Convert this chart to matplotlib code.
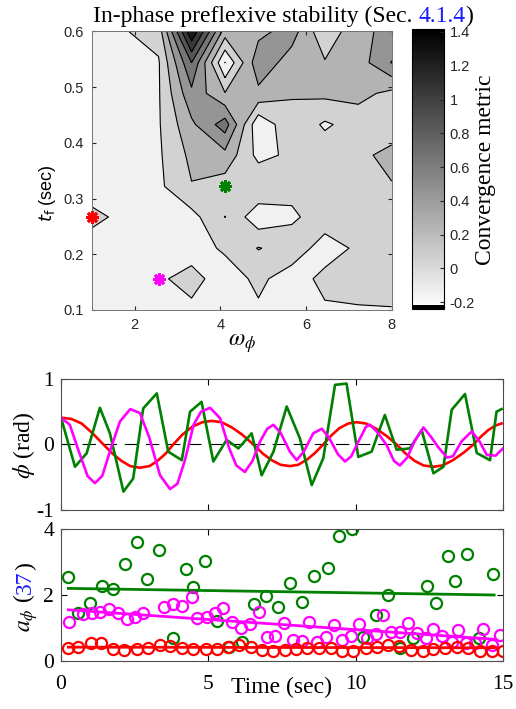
import numpy as np
import matplotlib
matplotlib.use('Agg')
import matplotlib.pyplot as plt
from matplotlib.colors import ListedColormap, Normalize
import matplotlib.cm as cm

plt.rcParams['font.family'] = ['Liberation Serif', 'DejaVu Serif']
plt.rcParams['mathtext.fontset'] = 'stix'
plt.rcParams['axes.unicode_minus'] = False

# ---- data: stability map (omega_phi x t_f grid) ----
omega = [1.0, 1.78, 2.56, 3.33, 4.11, 4.89, 5.67, 6.44, 7.22, 8.0]
tf = [0.1, 0.156, 0.211, 0.267, 0.322, 0.378, 0.433, 0.489, 0.544, 0.6]
conv = [
    [-0.15, -0.15, -0.12, -0.037, -0.10, -0.025, -0.08, -0.023, -0.01, -0.007],
    [-0.12, -0.10, -0.026, 0.06, -0.09, 0.04, -0.09, 0.05, 0.05, 0.06],
    [-0.09, -0.10, -0.10, -0.08, 0.027, 0.21, 0.11, -0.086, 0.033, 0.08],
    [0.05, -0.05, -0.10, -0.068, 0.203, -0.137, -0.035, 0.10, 0.10, 0.10],
    [-0.10, -0.10, -0.042, 0.19, 0.10, 0.18, 0.06, 0.12, 0.15, 0.19],
    [-0.10, -0.10, -0.03, 0.25, 0.34, -0.06, 0.04, 0.12, 0.16, 0.25],
    [-0.10, -0.10, -0.02, 0.36, 0.70, -0.16, 0.16, -0.03, 0.09, 0.10],
    [-0.10, -0.10, -0.02, 0.55, 0.21, 0.35, 0.21, 0.25, 0.26, 0.15],
    [-0.10, -0.08, -0.02, 0.80, -0.205, 0.54, 0.30, 0.217, 0.30, 0.61],
    [-0.10, -0.01, 0.08, 1.38, 0.30, 0.34, 0.49, 0.044, 0.356, 0.45],
]
clim = (-0.243, 1.416)
line_levels = [-0.2, 0, 0.2, 0.4, 0.6, 0.8, 1.0, 1.2]
cb_ticks = [-0.2, 0, 0.2, 0.4, 0.6, 0.8, 1.0, 1.2, 1.4]
cb_ticklabels = ['-0.2', '0', '0.2', '0.4', '0.6', '0.8', '1', '1.2', '1.4']

# picked parameter sets (red, green, magenta)
pick_omega = [1.0, 4.11, 2.56]
pick_tf = [0.267, 0.322, 0.156]
pick_colors = ['#ff0000', '#008000', '#ff00ff']

# ---- data: phi(t) ----
t_red = [0, 0.35, 0.7, 1.05, 1.44, 1.75, 2.05, 2.35, 2.68, 3.0, 3.25, 3.55, 3.81,
         4.12, 4.45, 4.8, 5.11, 5.45, 5.8, 6.15, 6.53, 6.85, 7.15, 7.45, 7.77,
         8.05, 8.35, 8.62, 8.9, 9.18, 9.45, 9.75, 10.03, 10.35, 10.7, 11.05, 11.39,
         11.7, 12.0, 12.3, 12.64, 12.95, 13.3, 13.65, 14.0, 14.25, 14.5, 14.75, 14.95]
phi_red = [0.41, 0.39, 0.32, 0.18, 0, -0.14, -0.25, -0.33, -0.355, -0.33, -0.26, -0.14, 0,
           0.15, 0.27, 0.34, 0.36, 0.34, 0.26, 0.15, 0, -0.14, -0.24, -0.31, -0.33,
           -0.31, -0.23, -0.13, 0, 0.14, 0.25, 0.32, 0.34, 0.32, 0.24, 0.13, 0,
           -0.14, -0.25, -0.32, -0.34, -0.32, -0.24, -0.13, 0, 0.12, 0.22, 0.29, 0.32]

t_green = [0, 0.475, 0.87, 1.32, 1.66, 2.12, 2.45, 2.79, 3.25, 3.64, 4.10, 4.38, 4.77,
           5.17, 5.62, 6.02, 6.47, 6.81, 7.21, 7.66, 8.11, 8.51, 8.90, 9.30, 9.69,
           10.09, 10.54, 10.99, 11.39, 11.84, 12.24, 12.64, 12.98, 13.26, 13.71,
           14.11, 14.56, 14.78, 14.95]
phi_green = [0.41, -0.34, -0.135, 0.56, 0.17, -0.72, -0.52, 0.55, 0.78, -0.11, -0.24,
             0.50, 0.65, -0.26, 0.07, -0.06, 0.17, -0.47, -0.11, 0.58, 0.09, -0.62,
             -0.21, 0.91, 0.93, -0.19, -0.11, 0.45, -0.08, -0.06, 0.22, -0.44, -0.34,
             0.53, 0.77, -0.13, -0.24, 0.50, 0.54]

t_mag = [0.0, 0.3, 0.6, 0.9, 1.15, 1.4, 1.7, 2.0, 2.35, 2.68, 3.0, 3.36, 3.7, 3.95,
         4.2, 4.5, 4.75, 5.06, 5.4, 5.7, 5.95, 6.24, 6.5, 6.75, 7.0, 7.21, 7.45, 7.77,
         8.0, 8.25, 8.56, 8.85, 9.1, 9.4, 9.64, 9.85, 10.1, 10.35, 10.49, 10.75, 11.05,
         11.3, 11.5, 11.75, 12.0, 12.3, 12.55, 12.8, 13.1, 13.3, 13.6, 13.94, 14.2,
         14.45, 14.75, 15.0]
phi_mag = [0.41, 0.30, -0.10, -0.48, -0.59, -0.48, -0.05, 0.35, 0.54, 0.48, 0.10, -0.47,
           -0.68, -0.60, -0.25, 0.30, 0.50, 0.56, 0.40, -0.05, -0.32, -0.42, -0.25, 0.04,
           0.24, 0.30, 0.18, -0.11, -0.24, -0.10, 0.17, 0.24, 0.10, -0.15, -0.26, -0.18,
           0.05, 0.27, 0.30, 0.18, -0.01, -0.25, -0.32, -0.20, 0.05, 0.26, 0.12, -0.04,
           -0.20, -0.18, 0.05, 0.20, 0.05, -0.16, -0.17, -0.06]

# ---- data: a_phi samples ----
ta_green = [0.25, 0.59, 0.98, 1.38, 1.78, 2.17, 2.59, 2.91, 3.34, 3.79, 4.24, 4.47, 4.89,
            5.28, 5.71, 6.13, 6.55, 6.95, 7.35, 7.77, 8.19, 8.60, 9.07, 9.45, 9.86,
            10.26, 10.69, 11.11, 11.51, 11.96, 12.41, 12.71, 13.12, 13.37, 13.79, 14.20, 14.67]
a_green = [2.56, 1.44, 1.75, 2.28, 2.18, 2.93, 3.60, 2.48, 3.36, 0.69, 2.78, 2.23, 3.04,
           1.21, 0.43, 0.59, 1.73, 1.98, 1.63, 2.35, 1.80, 2.58, 2.83, 3.80, 3.99,
           0.72, 1.39, 2.00, 0.40, 0.69, 2.28, 1.77, 3.18, 2.42, 3.25, 0.69, 2.63]

ta_mag = [0.28, 0.74, 1.04, 1.32, 1.64, 1.95, 2.23, 2.51, 2.79, 3.51, 3.79, 4.10, 4.43,
          4.63, 4.94, 5.23, 5.51, 5.79, 6.10, 6.41, 6.72, 6.98, 7.26, 7.58, 7.86, 8.17,
          8.43, 8.70, 8.98, 9.26, 9.55, 9.83, 10.12, 10.40, 10.69, 10.94, 11.19, 11.50,
          11.79, 12.07, 12.38, 12.64, 12.92, 13.26, 13.48, 13.74, 14.05, 14.33, 14.62, 14.90]
a_mag = [1.17, 1.41, 1.44, 1.49, 1.58, 1.44, 1.27, 1.34, 1.44, 1.65, 1.72, 1.68, 1.95,
         1.29, 1.34, 1.44, 1.62, 1.17, 1.01, 1.11, 1.49, 0.74, 0.77, 1.16, 0.64, 0.61,
         1.19, 0.57, 0.72, 1.09, 0.64, 0.77, 1.12, 0.69, 0.81, 1.39, 0.87, 0.87,
         1.16, 0.84, 0.69, 0.97, 0.77, 0.59, 0.94, 0.54, 0.56, 0.96, 0.48, 0.79]

ta_red = [0.25, 0.59, 1.01, 1.35, 1.75, 2.15, 2.57, 2.96, 3.36, 3.70, 4.10, 4.49, 4.91,
          5.28, 5.68, 6.05, 6.44, 6.83, 7.21, 7.60, 7.98, 8.36, 8.76, 9.15, 9.55, 9.92,
          10.35, 10.74, 11.11, 11.48, 11.87, 12.27, 12.64, 13.03, 13.43, 13.82, 14.22,
          14.62, 15.0]
a_red = [0.40, 0.43, 0.54, 0.56, 0.36, 0.33, 0.35, 0.38, 0.48, 0.46, 0.40, 0.36, 0.35,
         0.35, 0.43, 0.48, 0.43, 0.33, 0.31, 0.33, 0.36, 0.40, 0.40, 0.38, 0.30, 0.31,
         0.38, 0.43, 0.48, 0.45, 0.33, 0.31, 0.36, 0.38, 0.43, 0.38, 0.31, 0.30, 0.31]

# trend lines (start/end)
fit_t = [0.25, 14.7]
fit_green = [2.20, 2.00]
fit_mag = [1.55, 0.66]
fit_red = [0.42, 0.40]

blue = '#1a1aff'
gray_txt = '#262626'

fig = plt.figure(figsize=(5.16, 7.09), dpi=100)

# ---------------- contour map ----------------
base = plt.cm.gray_r(np.linspace(0, 1, 256))
base[:4] = [0, 0, 0, 1]
cmap = ListedColormap(base)
norm = Normalize(vmin=clim[0], vmax=clim[1])

ax1 = fig.add_axes([0.1777, 0.5628, 0.5814, 0.3928])
fill_levels = [clim[0]] + line_levels + [clim[1]]
fill_colors = [cmap(norm(l + 0.05)) for l in fill_levels[:-1]]
fill_colors[0] = cmap(0.0)
ax1.contourf(omega, tf, conv, levels=fill_levels, colors=fill_colors)
ax1.contour(omega, tf, conv, levels=line_levels, colors='k', linewidths=0.8)
for w, t, c in zip(pick_omega, pick_tf, pick_colors):
    ax1.plot(w, t, marker=(8, 2, 0), color=c, ms=9, mew=2, clip_on=False, zorder=5)
ax1.set_xlim(1, 8)
ax1.set_ylim(0.1, 0.6)
ax1.set_xticks([2, 4, 6, 8])
ax1.set_yticks([0.1, 0.2, 0.3, 0.4, 0.5, 0.6])
ax1.set_xticklabels(['2', '4', '6', '8'])
ax1.set_yticklabels(['0.1', '0.2', '0.3', '0.4', '0.5', '0.6'])
ax1.tick_params(direction='in', length=3, top=True, right=True, colors=gray_txt,
                labelsize=10.5, pad=6)
for lab in ax1.get_xticklabels() + ax1.get_yticklabels():
    lab.set_fontfamily('Liberation Sans')
for s in ax1.spines.values():
    s.set_color('0.45')
    s.set_linewidth(0.7)
ax1.set_xlabel(r'$\omega_\phi$', fontsize=17, labelpad=0)
fig.text(48 / 516, 1 - 193 / 709, r'$t_\mathrm{f}$ (sec)', rotation=90, ha='center',
         va='center', fontsize=13, family='Liberation Sans',
         math_fontfamily='dejavusans')

# title with blue section number
t1 = fig.text(93 / 516, 1 - 22 / 709, 'In-phase preflexive stability (Sec.',
              fontsize=17, ha='left', va='baseline')
t2 = ax1.annotate('4.1.4', xy=(1, 1 - 22 / 709), xycoords=(t1, 'figure fraction'),
                  xytext=(4.2, 0), textcoords='offset points', ha='left',
                  va='baseline', fontsize=17, color=blue, annotation_clip=False)
ax1.annotate(')', xy=(1, 1 - 22 / 709), xycoords=(t2, 'figure fraction'),
             ha='left', va='baseline', fontsize=17, annotation_clip=False)

# colorbar
cax = fig.add_axes([0.7984, 0.5637, 0.062, 0.395])
sm = cm.ScalarMappable(norm=norm, cmap=cmap)
cb = fig.colorbar(sm, cax=cax, ticks=cb_ticks)
cb.ax.set_yticklabels(cb_ticklabels)
cb.ax.tick_params(direction='in', length=3, labelsize=10.5, colors=gray_txt, pad=4)
for lab in cb.ax.get_yticklabels():
    lab.set_fontfamily('Liberation Sans')
cb.outline.set_linewidth(0.8)
cb.set_label('Convergence metric', fontsize=17, labelpad=0)

# ---------------- phi(t) ----------------
ax2 = fig.add_axes([0.1182, 0.2807, 0.8566, 0.1848])
ax2.axhline(0, color='k', lw=0.8, ls=(0, (12, 7)))
ax2.plot(t_red, phi_red, color='#ff0000', lw=1.9)
ax2.plot(t_green, phi_green, color='#008000', lw=1.9)
ax2.plot(t_mag, phi_mag, color='#ff00ff', lw=1.9)
ax2.set_xlim(0, 15)
ax2.set_ylim(-1, 1)
ax2.set_xticks([0, 5, 10, 15])
ax2.set_xticklabels([])
ax2.set_yticks([-1, 0, 1])
ax2.set_yticklabels(['-1', '0', '1'])
fig.text(24 / 516, 1 - 445 / 709, r'$\phi$ (rad)', rotation=90, ha='center',
         va='center', fontsize=17)

# ---------------- a_phi samples ----------------
ax3 = fig.add_axes([0.1182, 0.0677, 0.8566, 0.1862])
ax3.plot(ta_green, a_green, 'o', mfc='none', mec='#008000', ms=8, mew=1.6)
ax3.plot(fit_t, fit_green, color='#008000', lw=2)
ax3.plot(ta_mag, a_mag, 'o', mfc='none', mec='#ff00ff', ms=8, mew=1.6)
ax3.plot(fit_t, fit_mag, color='#ff00ff', lw=2)
ax3.plot(ta_red, a_red, 'o', mfc='none', mec='#ff0000', ms=8, mew=1.6)
ax3.plot(fit_t, fit_red, color='#ff0000', lw=2)
ax3.set_xlim(0, 15)
ax3.set_ylim(0, 4)
ax3.set_xticks([0, 5, 10, 15])
ax3.set_xticklabels(['0', '5', '10', '15'])
ax3.set_yticks([0, 2, 4])
ax3.set_yticklabels(['0', '2', '4'])
ax3.set_xlabel('Time (sec)', fontsize=17, labelpad=-12)

for ax in (ax2, ax3):
    ax.tick_params(direction='in', length=4, top=True, right=True, labelsize=15.5,
                   pad=5)
    ax.tick_params(axis='x', pad=10)
    for s in ax.spines.values():
        s.set_color('0.3')
        s.set_linewidth(0.8)

# y label with blue equation reference
y0 = 1 - 632 / 709
bx = 31 / 516
p1 = fig.text(bx, y0, r'$a_\phi$ (', rotation=90, rotation_mode='anchor',
              ha='left', va='baseline', fontsize=17)
p2 = ax3.annotate('37', xy=(bx, 1), xycoords=('figure fraction', p1), rotation=90,
                  rotation_mode='anchor', ha='left', va='baseline', fontsize=17,
                  color=blue, annotation_clip=False)
ax3.annotate(')', xy=(bx, 1), xycoords=('figure fraction', p2), rotation=90,
             rotation_mode='anchor', ha='left', va='baseline', fontsize=17,
             annotation_clip=False)

fig.savefig('out.png', dpi=100)
